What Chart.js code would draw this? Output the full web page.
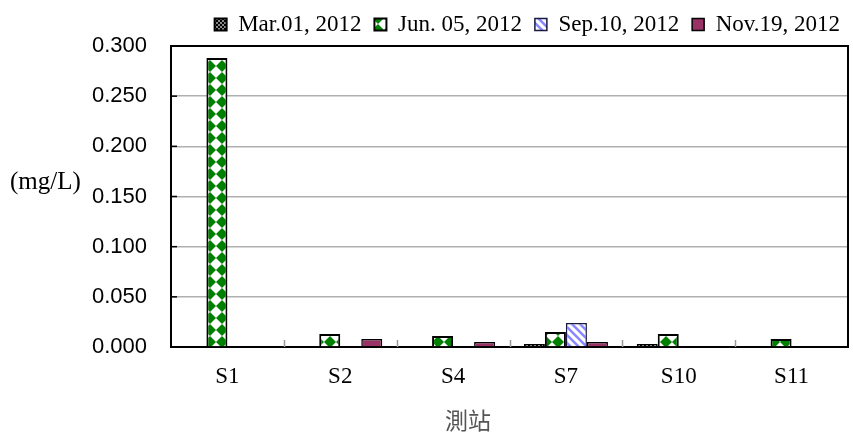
<!DOCTYPE html>
<html>
<head>
<meta charset="utf-8">
<script src="https://cdn.jsdelivr.net/npm/chart.js@4"></script>
<style>
  html, body { margin: 0; padding: 0; background: #fff; }
  #wrap { width: 853px; height: 436px; }
</style>
</head>
<body>
<div id="wrap"><canvas id="c" width="853" height="436"></canvas></div>
<script>
// Stations (categories) and sampling dates (series)
const stations = ['S1', 'S2', 'S4', 'S7', 'S10', 'S11'];
const seriesNames = ['Mar.01, 2012', 'Jun. 05, 2012', 'Sep.10, 2012', 'Nov.19, 2012'];

// Concentrations in mg/L (null = no bar)
const marValues = [null, null, null, 0.003, 0.003, null];
const junValues = [0.288, 0.013, 0.011, 0.015, 0.013, 0.008];
const sepValues = [null, null, null, 0.024, null, null];
const novValues = [null, 0.008, 0.005, 0.005, null, null];

// Y axis ticks
const yTicks = [0, 0.05, 0.10, 0.15, 0.20, 0.25, 0.30];

const yUnit = '(mg/L)';
const xTitle = '測站';

// ---- fill patterns ----
function makeTile(w, h, draw) {
  const cv = document.createElement('canvas');
  cv.width = w; cv.height = h;
  const g = cv.getContext('2d');
  draw(g, w, h);
  return cv;
}
const ctxMain = document.getElementById('c').getContext('2d');

const dotPattern = ctxMain.createPattern(makeTile(4, 4, (g) => {
  g.fillStyle = '#8a8a8a'; g.fillRect(0, 0, 4, 4);
  g.fillStyle = '#000'; g.fillRect(0, 0, 2, 2); g.fillRect(2, 2, 2, 2);
}), 'repeat');

const diamondPattern = ctxMain.createPattern(makeTile(12, 12, (g, w, h) => {
  g.fillStyle = '#ffffff'; g.fillRect(0, 0, w, h);
  g.fillStyle = '#008000';
  g.beginPath();
  g.moveTo(w / 2, 0); g.lineTo(w, h / 2); g.lineTo(w / 2, h); g.lineTo(0, h / 2);
  g.closePath(); g.fill();
}), 'repeat');

const stripePattern = ctxMain.createPattern(makeTile(8, 8, (g, w, h) => {
  g.fillStyle = '#ffffff'; g.fillRect(0, 0, w, h);
  g.strokeStyle = '#8a8aff'; g.lineWidth = 2.6;
  g.beginPath();
  g.moveTo(-2, -2); g.lineTo(w + 2, h + 2);
  g.moveTo(-2, h - 2); g.lineTo(2, h + 2);
  g.moveTo(w - 2, -2); g.lineTo(w + 2, 2);
  g.stroke();
}), 'repeat');

// Frame, inside tick marks and free-standing labels
const framePlugin = {
  id: 'frame',
  afterDatasetsDraw(chart) {
    const { ctx, chartArea: a, scales } = chart;
    ctx.save();
    // category separators on the x axis (pointing up)
    ctx.strokeStyle = '#9a9a9a';
    ctx.lineWidth = 1.5;
    const n = stations.length;
    const step = (a.right - a.left) / n;
    for (let i = 1; i < n; i++) {
      const x = Math.round(a.left + step * i) + 0.5;
      ctx.beginPath(); ctx.moveTo(x, a.bottom); ctx.lineTo(x, a.bottom - 7); ctx.stroke();
    }
    // inside tick marks on the y axis
    ctx.strokeStyle = '#000';
    ctx.lineWidth = 1.5;
    yTicks.forEach(v => {
      const y = scales.y.getPixelForValue(v);
      ctx.beginPath(); ctx.moveTo(a.left, y); ctx.lineTo(a.left + 6, y); ctx.stroke();
    });
    // top and right border of the plot area
    ctx.lineWidth = 2;
    ctx.beginPath();
    ctx.moveTo(a.left, a.top); ctx.lineTo(a.right, a.top); ctx.lineTo(a.right, a.bottom);
    ctx.stroke();
    ctx.restore();
  },
  afterDraw(chart) {
    const { ctx } = chart;
    ctx.save();
    ctx.fillStyle = '#000';
    ctx.font = '25px "Liberation Serif", "Times New Roman", serif';
    ctx.textAlign = 'left';
    ctx.textBaseline = 'middle';
    ctx.fillText(yUnit, 10, 182);
    ctx.fillStyle = '#555';
    ctx.font = '23px "Noto Sans CJK TC", "Noto Sans CJK SC", sans-serif';
    ctx.textAlign = 'center';
    ctx.fillText(xTitle, 468, 420);
    ctx.restore();
  }
};

const serifFont = { family: '"Liberation Serif", "Times New Roman", serif', size: 23 };

new Chart(ctxMain, {
  type: 'bar',
  data: {
    labels: stations,
    datasets: [
      { label: seriesNames[0], data: marValues, backgroundColor: dotPattern, borderColor: '#000', borderWidth: 2 },
      { label: seriesNames[1], data: junValues, backgroundColor: diamondPattern, borderColor: '#000', borderWidth: 2 },
      { label: seriesNames[2], data: sepValues, backgroundColor: stripePattern, borderColor: '#1a1a40', borderWidth: 1.5 },
      { label: seriesNames[3], data: novValues, backgroundColor: '#993366', borderColor: '#000', borderWidth: 1.5 }
    ]
  },
  options: {
    responsive: false,
    animation: false,
    devicePixelRatio: 1,
    layout: { padding: { top: 0, right: 0, bottom: 0, left: 0 } },
    datasets: {
      bar: { categoryPercentage: 0.745, barPercentage: 1.0, borderSkipped: 'start' }
    },
    plugins: {
      legend: {
        position: 'top',
        align: 'end',
        labels: {
          boxWidth: 12,
          boxHeight: 12,
          padding: 13,
          color: '#000',
          font: serifFont
        }
      },
      tooltip: { enabled: false }
    },
    scales: {
      x: {
        grid: { display: false, drawTicks: false },
        border: { display: true, color: '#000', width: 2 },
        ticks: { color: '#000', font: serifFont, padding: 16 },
        afterFit(scale) { scale.height = 89; }
      },
      y: {
        min: 0,
        max: 0.3,
        afterBuildTicks(scale) { scale.ticks = yTicks.map(v => ({ value: v })); },
        grid: { color: '#b0b0b0', lineWidth: 1.5, drawTicks: false },
        border: { display: true, color: '#000', width: 2 },
        ticks: {
          color: '#000',
          padding: 24,
          font: { family: '"Liberation Sans", Arial, sans-serif', size: 22 },
          callback: (v) => Number(v).toFixed(3)
        },
        afterFit(scale) { scale.width = 171; }
      },
      // empty right-hand strip that leaves a small margin after the plot frame
      yRight: {
        position: 'right',
        display: true,
        grid: { display: false, drawTicks: false },
        border: { display: false },
        ticks: { display: false },
        afterFit(scale) { scale.width = 5; }
      }
    }
  },
  plugins: [framePlugin]
});
</script>
</body>
</html>
